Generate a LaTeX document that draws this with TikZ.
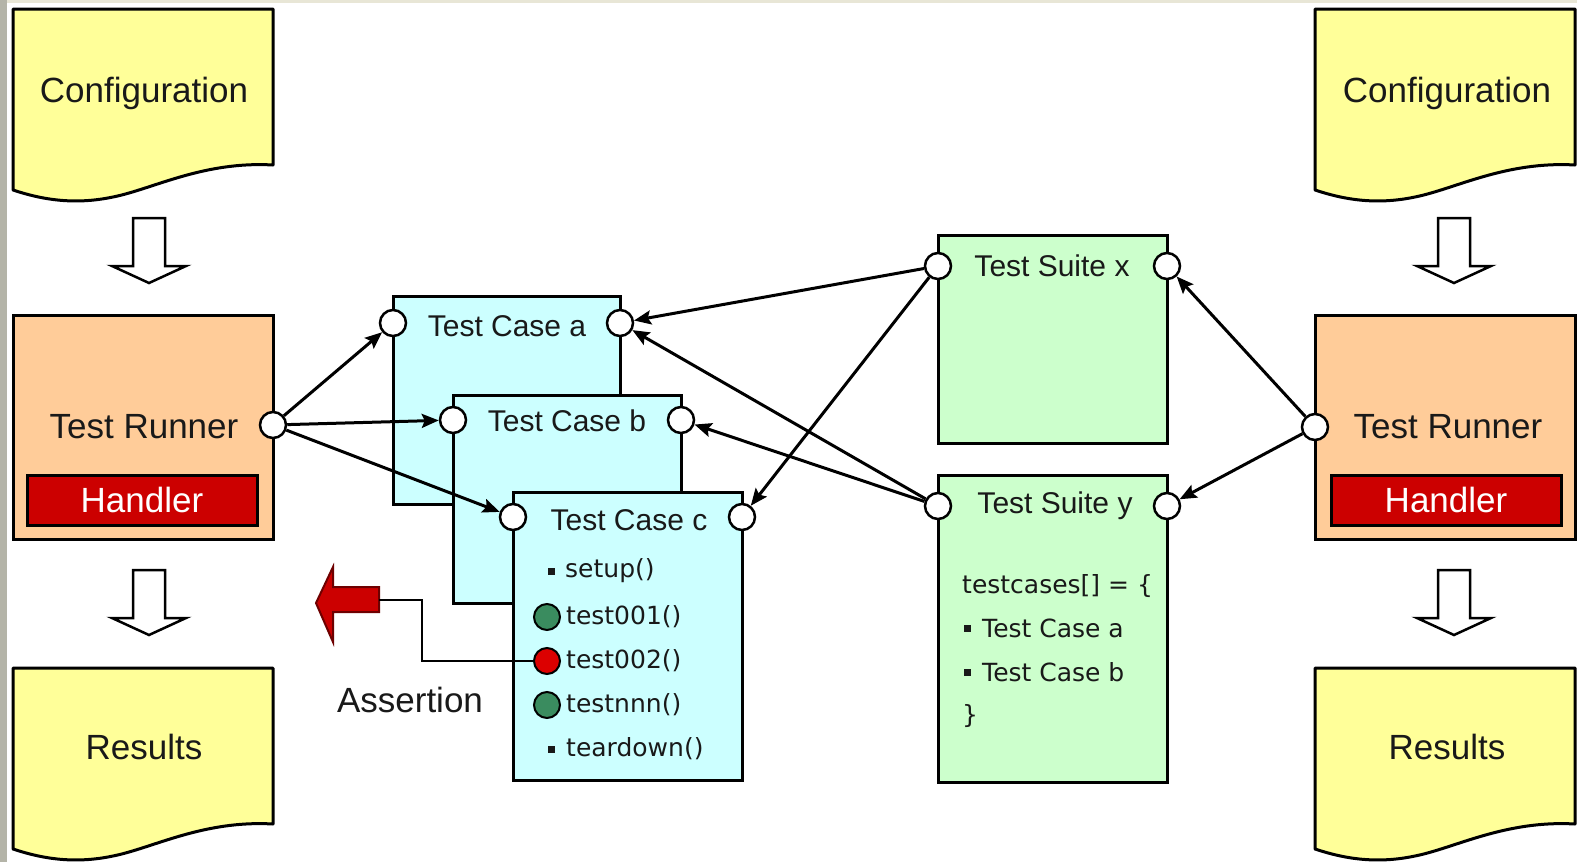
\documentclass[tikz,border=0pt]{standalone}
\usepackage{fontspec}
\setmainfont{Liberation Sans}
\newfontfamily\codefont{DejaVu Sans}
\usetikzlibrary{arrows.meta}
\definecolor{docyellow}{RGB}{255,255,153}
\definecolor{peach}{RGB}{255,204,153}
\definecolor{handred}{RGB}{204,0,0}
\definecolor{casecyan}{RGB}{204,255,255}
\definecolor{suitegreen}{RGB}{204,255,204}
\definecolor{okgreen}{RGB}{58,140,95}
\definecolor{failred}{RGB}{220,0,0}
\definecolor{darkred}{RGB}{110,0,0}
\definecolor{txt}{RGB}{25,25,25}
\definecolor{stripgray}{RGB}{180,180,168}
\definecolor{stripbeige}{RGB}{232,230,214}
\begin{document}
\begin{tikzpicture}[x=1pt,y=-1pt,
  boxline/.style={draw=black,line width=3pt},
  basebox/.style={boxline,anchor=north west,inner sep=0pt,outer sep=0pt},
  casebox/.style={basebox,fill=casecyan},
  suitebox/.style={basebox,fill=suitegreen},
  runbox/.style={basebox,fill=peach},
  handbox/.style={boxline,fill=handred,inner sep=0pt,text=white,font=\fontsize{35}{40}\selectfont},
  port/.style={circle,draw=black,fill=white,line width=2.5pt,minimum size=26pt,inner sep=0pt},
  okdot/.style={circle,draw=black,fill=okgreen,line width=2pt,minimum size=26pt,inner sep=0pt},
  faildot/.style={circle,draw=black,fill=failred,line width=2pt,minimum size=26pt,inner sep=0pt},
  bulletsq/.style={rectangle,fill=txt,minimum size=7pt,inner sep=0pt},
  conn/.style={line width=3pt,-{Stealth[length=17pt,width=14pt,inset=3pt]}},
  lbl/.style={font=\fontsize{35}{40}\selectfont,text=txt},
  ttl/.style={font=\fontsize{30}{34}\selectfont,text=txt},
  code/.style={font=\codefont\fontsize{25}{29}\selectfont,text=txt,anchor=west,inner sep=0pt},
  docpic/.pic={\draw[boxline,fill=docyellow,line join=round] (0,0) -- (260,0) -- (260,156)
      .. controls (190,152) and (140,180) .. (100,188)
      .. controls (62,196) and (30,191) .. (0,181) -- cycle;},
  downpic/.pic={\draw[draw=black,fill=white,line width=2.5pt,line join=miter]
      (-16,0) -- (16,0) -- (16,48) -- (37,48) -- (0,65) -- (-37,48) -- (-16,48) -- cycle;}
]
\useasboundingbox (0,0) rectangle (1577,862);
\fill[white] (0,0) rectangle (1577,862);
\fill[stripbeige] (0,0) rectangle (1577,3);
\fill[stripgray] (0,0) rectangle (7,862);

% ---- left column ----
\pic at (13,9) {docpic};
\node[lbl] (cfgL) at (144,93) {Configuration};
\pic at (149,218) {downpic};
\node[runbox,minimum width=260pt,minimum height=224pt] (runL) at (13,315) {};
\node[lbl] (runLt) at (144,427) {Test Runner};
\node[handbox,minimum width=230pt,minimum height=50pt] (handL) at (142,500) {Handler};
\pic at (149,570) {downpic};
\pic at (13,668) {docpic};
\node[lbl] (resL) at (144,747) {Results};

% ---- right column ----
\pic at (1315,9) {docpic};
\node[lbl] (cfgR) at (1447,93) {Configuration};
\pic at (1454,218) {downpic};
\node[runbox,minimum width=260pt,minimum height=224pt] (runR) at (1315,315) {};
\node[lbl] (runRt) at (1448,427) {Test Runner};
\node[handbox,minimum width=230pt,minimum height=50pt] (handR) at (1446,500) {Handler};
\pic at (1454,570) {downpic};
\pic at (1315,668) {docpic};
\node[lbl] (resR) at (1447,747) {Results};

% ---- test cases ----
\node[casebox,minimum width=227pt,minimum height=208pt] (caseA) at (393,296) {};
\node[ttl] (caseAt) at (507,326) {Test Case a};
\node[casebox,minimum width=228pt,minimum height=208pt] (caseB) at (453,395) {};
\node[ttl] (caseBt) at (567,421) {Test Case b};
\node[casebox,minimum width=229pt,minimum height=288pt] (caseC) at (513,492) {};
\node[ttl] (caseCt) at (629,520) {Test Case c};
\node[bulletsq] (b1) at (551,571) {};
\node[code] (setup) at (565,571) {setup()};
\node[okdot] (d1) at (547,617) {};
\node[code] (t1) at (566,617) {test001()};
\node[faildot] (d2) at (547,661) {};
\node[code] (t2) at (566,661) {test002()};
\node[okdot] (d3) at (547,705) {};
\node[code] (t3) at (566,705) {testnnn()};
\node[bulletsq] (b2) at (551,749) {};
\node[code] (tear) at (566,749) {teardown()};

% ---- test suites ----
\node[suitebox,minimum width=229pt,minimum height=208pt] (suiteX) at (938,235) {};
\node[ttl] (suiteXt) at (1052,266) {Test Suite x};
\node[suitebox,minimum width=229pt,minimum height=307pt] (suiteY) at (938,475) {};
\node[ttl] (suiteYt) at (1055,506) {Test Suite y};
\node[code] (sy1) at (962,586) {testcases[] = \{};
\node[bulletsq] (b3) at (967,628) {};
\node[code] (sy2) at (982,628) {Test Case a};
\node[bulletsq] (b4) at (967,672) {};
\node[code] (sy3) at (982,672) {Test Case b};
\node[code] (sy4) at (962,716) {\}};

% ---- assertion ----
\draw[fill=handred,draw=darkred,line width=2pt,line join=miter]
  (316,603) -- (333,567) -- (333,587) -- (379,587) -- (379,612) -- (333,612) -- (333,642) -- cycle;
\coordinate (assertEnd) at (379,600);
\coordinate (bend) at (422,600);
\draw[line width=2.2pt] (d2.west) -| (bend) -- (assertEnd);
\node[lbl] (assertT) at (410,700) {Assertion};

% ---- ports ----
\node[port] (pRL) at (273,425) {};
\node[port] (pRR) at (1315,427) {};
\node[port] (aL) at (393,323) {};
\node[port] (aR) at (620,323) {};
\node[port] (bL) at (453,420) {};
\node[port] (bR) at (681,420) {};
\node[port] (cL) at (513,517) {};
\node[port] (cR) at (742,517) {};
\node[port] (xL) at (938,266) {};
\node[port] (xR) at (1167,266) {};
\node[port] (yL) at (938,506) {};
\node[port] (yR) at (1167,506) {};

% ---- connectors ----
\draw[conn] (pRL) -- (aL);
\draw[conn] (pRL) -- (bL);
\draw[conn] (pRL) -- (cL);
\draw[conn] (xL) -- (aR);
\draw[conn] (xL) -- (cR);
\draw[conn] (yL) -- (aR);
\draw[conn] (yL) -- (bR);
\draw[conn] (pRR) -- (xR);
\draw[conn] (pRR) -- (yR);
\end{tikzpicture}
\end{document}
